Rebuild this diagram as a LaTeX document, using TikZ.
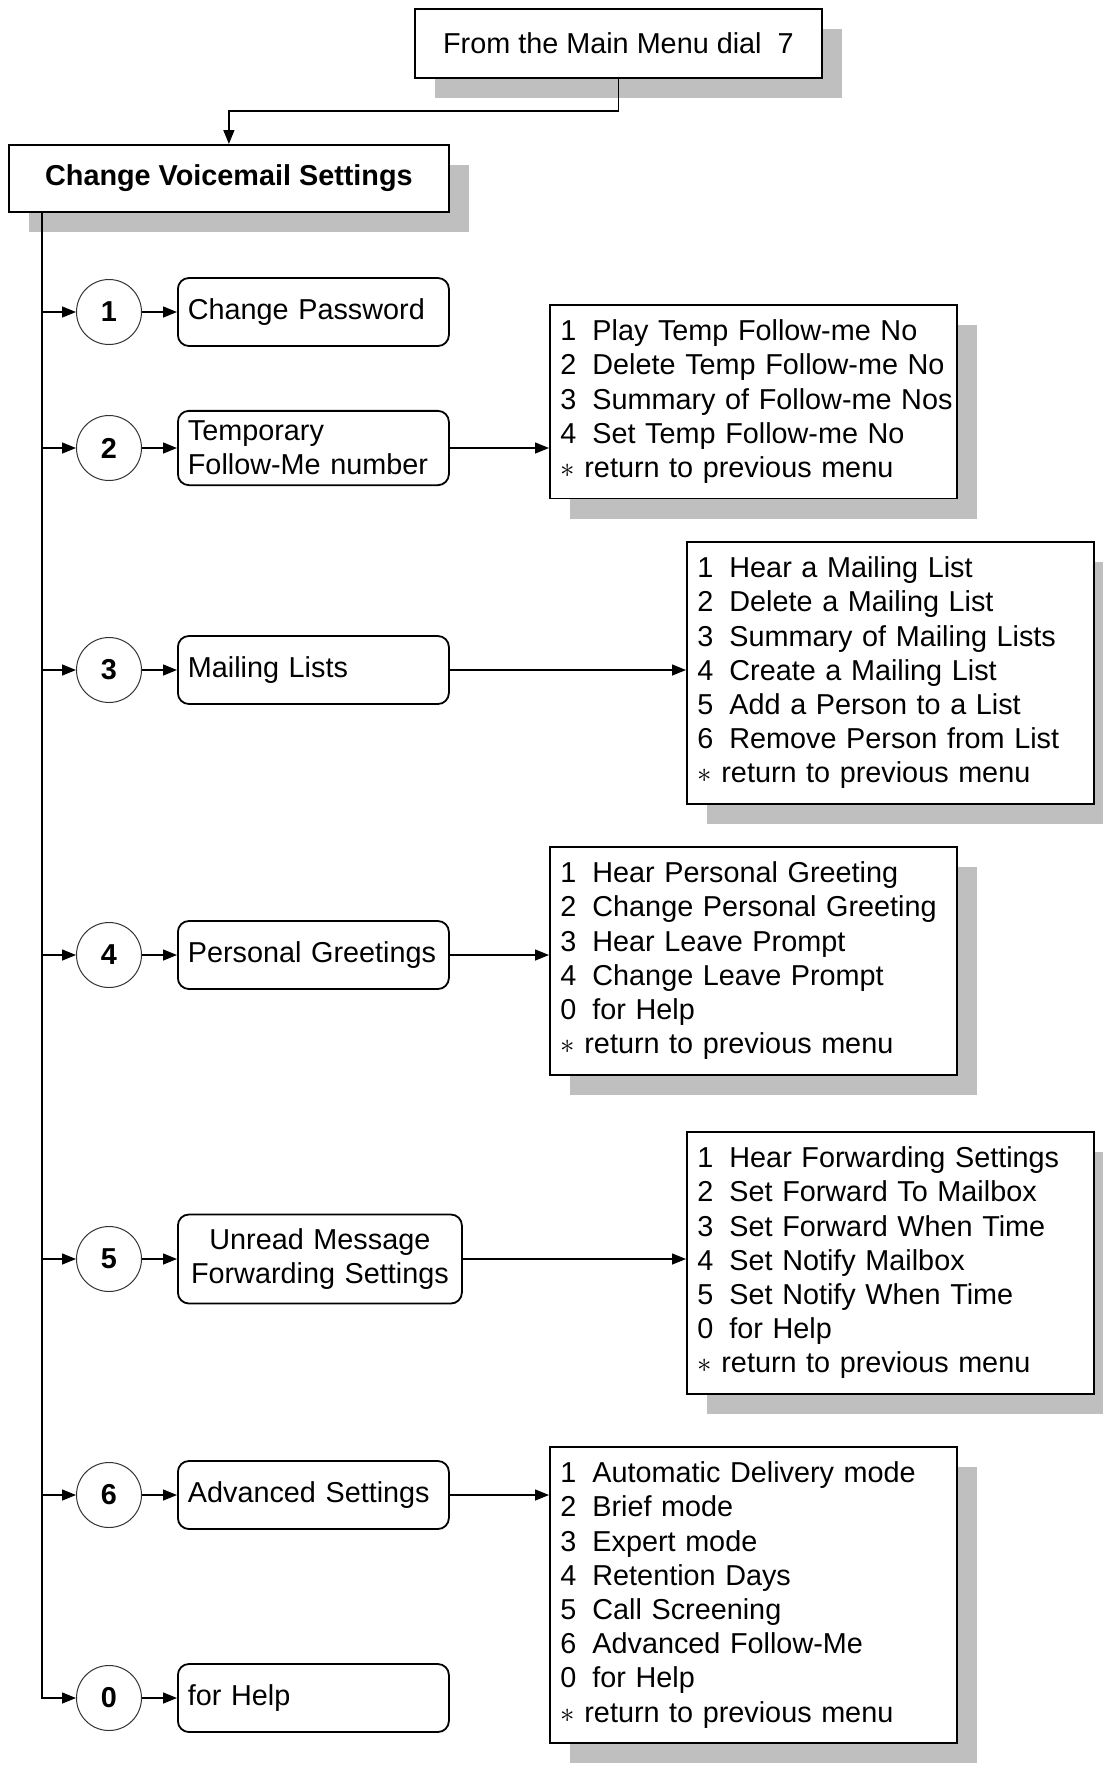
\documentclass[tikz,border=0pt]{standalone}
\usepackage{fontspec}
\setmainfont{Liberation Sans}
\usepackage{tikz}
\usetikzlibrary{arrows.meta, positioning, shadows}

\newcommand{\vmfont}{\fontsize{14.4pt}{17.1pt}\selectfont}
\newcommand{\itm}[2]{\mbox{#1\hspace{0.556em}#2}}

\begin{document}
\begin{tikzpicture}[
    x=0.5pt, y=-0.5pt,
    node distance=17.5pt,
    box/.style={
      rectangle, draw=black, line width=0.9pt,
      fill=white,
      drop shadow={shadow xshift=10pt, shadow yshift=-10pt,
                   fill=black!25, opacity=1},
      align=center, font=\vmfont, inner sep=0pt,
      anchor=north west
    },
    num/.style={
      circle, draw=black!80, line width=0.5pt,
      fill=white, minimum size=32.5pt, inner sep=0pt,
      font=\vmfont\bfseries
    },
    opt/.style={
      rectangle, rounded corners=5.5pt,
      draw=black, line width=0.9pt, fill=white,
      text width=125.5pt, minimum height=34pt,
      align=left, font=\vmfont, inner xsep=5pt, inner ysep=5pt
    },
    menu/.style={
      rectangle, draw=black, line width=0.9pt,
      fill=white,
      drop shadow={shadow xshift=10pt, shadow yshift=-10pt,
                   fill=black!25, opacity=1},
      text width=193pt, align=left, font=\vmfont,
      inner xsep=5.25pt, inner ysep=7.5pt, anchor=north west
    },
    arr/.style={-{Triangle[length=7pt, width=5.5pt]}, line width=0.7pt},
    line/.style={line width=0.7pt}
  ]

    \useasboundingbox (0,0) rectangle (1103,1769);

    % top of the tree
    \node[box, minimum width=203.5pt, minimum height=34.5pt] (dial) at (414,8)
      {From the Main Menu dial\ \ 7};
    \node[box, font=\vmfont\bfseries, minimum width=220pt,
          minimum height=33.5pt] (cvs) at (8,144) {Change Voicemail Settings};
    \coordinate (trunk) at (42,0);

    % options
    \node[num] (c1) at (109,312)  {1};
    \node[num] (c2) at (109,448)  {2};
    \node[num] (c3) at (109,670)  {3};
    \node[num] (c4) at (109,955)  {4};
    \node[num] (c5) at (109,1259) {5};
    \node[num] (c6) at (109,1495) {6};
    \node[num] (c0) at (109,1698) {0};

    \node[opt, right=of c1] (o1) {Change Password};
    \node[opt, right=of c2] (o2) {Temporary\\Follow-Me number};
    \node[opt, right=of c3] (o3) {Mailing Lists};
    \node[opt, right=of c4] (o4) {Personal Greetings};
    \node[opt, right=of c5, text width=132pt, align=center,
          minimum height=44.5pt] (o5) {Unread Message\\Forwarding Settings};
    \node[opt, right=of c6] (o6) {Advanced Settings};
    \node[opt, right=of c0] (o0) {for Help};

    % sub menus
    \node[menu] (s2) at (549,304) {\itm{1}{Play Temp Follow-me No}\\
      \itm{2}{Delete Temp Follow-me No}\\
      \itm{3}{Summary of Follow-me Nos}\\
      \itm{4}{Set Temp Follow-me No}\\
      $\ast$ return to previous menu};
    \node[menu] (s3) at (686,541) {\itm{1}{Hear a Mailing List}\\
      \itm{2}{Delete a Mailing List}\\
      \itm{3}{Summary of Mailing Lists}\\
      \itm{4}{Create a Mailing List}\\
      \itm{5}{Add a Person to a List}\\
      \itm{6}{Remove Person from List}\\
      $\ast$ return to previous menu};
    \node[menu] (s4) at (549,846) {\itm{1}{Hear Personal Greeting}\\
      \itm{2}{Change Personal Greeting}\\
      \itm{3}{Hear Leave Prompt}\\
      \itm{4}{Change Leave Prompt}\\
      \itm{0}{for Help}\\
      $\ast$ return to previous menu};
    \node[menu] (s5) at (686,1131) {\itm{1}{Hear Forwarding Settings}\\
      \itm{2}{Set Forward To Mailbox}\\
      \itm{3}{Set Forward When Time}\\
      \itm{4}{Set Notify Mailbox}\\
      \itm{5}{Set Notify When Time}\\
      \itm{0}{for Help}\\
      $\ast$ return to previous menu};
    \node[menu] (s6) at (549,1446) {\itm{1}{Automatic Delivery mode}\\
      \itm{2}{Brief mode}\\
      \itm{3}{Expert mode}\\
      \itm{4}{Retention Days}\\
      \itm{5}{Call Screening}\\
      \itm{6}{Advanced Follow-Me}\\
      \itm{0}{for Help}\\
      $\ast$ return to previous menu};

    % connectors
    \draw[arr] (dial.south) -- ++(0,32) -| (cvs.north);
    \draw[arr] (cvs.south -| trunk) |- (c0);
    \foreach \n in {1,...,6}
      \draw[arr] (c\n -| trunk) -- (c\n);
    \foreach \n in {1,...,6,0}
      \draw[arr] (c\n) -- (o\n);
    \foreach \n in {2,...,6}
      \draw[arr] (o\n) -- (o\n -| s\n.west);
  \end{tikzpicture}
\end{document}
